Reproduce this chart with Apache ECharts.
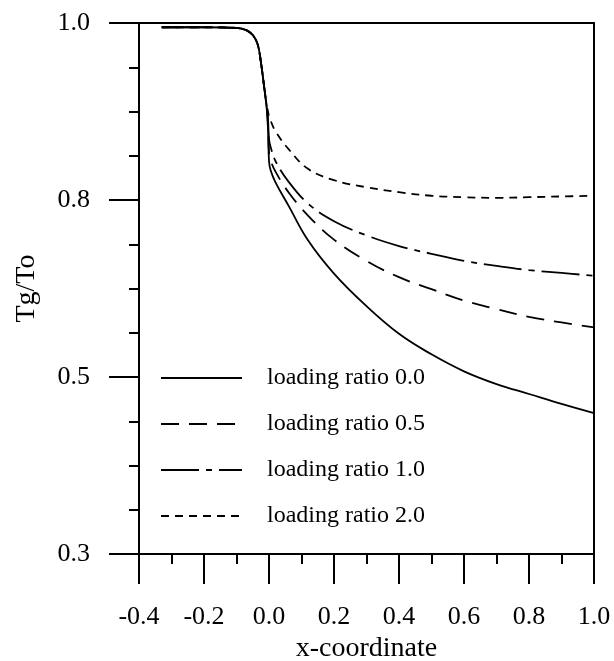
<!DOCTYPE html>
<html>
<head>
<meta charset="utf-8">
<script src="https://cdn.jsdelivr.net/npm/echarts@6/dist/echarts.min.js"></script>
<style>
  html, body { margin: 0; padding: 0; background: #fff; }
  #chart { width: 614px; height: 661px; }
</style>
</head>
<body>
<div id="chart"></div>
<script>
// x positions shared by all curves
var xs = [-0.33, -0.2, -0.1, -0.07, -0.05, -0.035, -0.025, -0.015, -0.008, -0.003, 0.0, 0.005, 0.02, 0.06, 0.12, 0.2, 0.3, 0.4, 0.5, 0.6, 0.7, 0.8, 0.9, 1.0];

// Tg/To for each loading ratio
var ratio00 = [0.994, 0.994, 0.993, 0.990, 0.983, 0.970, 0.945, 0.910, 0.885, 0.850, 0.805, 0.792, 0.775, 0.742, 0.693, 0.646, 0.600, 0.561, 0.532, 0.508, 0.490, 0.476, 0.462, 0.449];
var ratio05 = [0.994, 0.994, 0.993, 0.990, 0.983, 0.970, 0.945, 0.910, 0.885, 0.858, 0.818, 0.806, 0.790, 0.761, 0.728, 0.694, 0.664, 0.641, 0.624, 0.608, 0.596, 0.585, 0.577, 0.570];
var ratio10 = [0.994, 0.994, 0.993, 0.990, 0.983, 0.970, 0.945, 0.910, 0.885, 0.863, 0.836, 0.825, 0.805, 0.776, 0.745, 0.720, 0.700, 0.685, 0.674, 0.664, 0.657, 0.651, 0.647, 0.643];
var ratio20 = [0.994, 0.994, 0.993, 0.990, 0.983, 0.970, 0.945, 0.910, 0.885, 0.875, 0.868, 0.862, 0.847, 0.822, 0.794, 0.778, 0.768, 0.761, 0.756, 0.754, 0.753, 0.754, 0.755, 0.756];

var names = ['loading ratio 0.0', 'loading ratio 0.5', 'loading ratio 1.0', 'loading ratio 2.0'];

var font = 'Liberation Serif';

function pts(ys) {
  return xs.map(function (x, i) { return [x, ys[i]]; });
}

function line(name, ys, dash) {
  return {
    name: name,
    type: 'line',
    data: pts(ys),
    symbol: 'none',
    smooth: 0.4,
    lineStyle: { color: '#000', width: 1.8, type: dash },
    // no markers; keeps the legend's marker invisible too
    itemStyle: { color: 'rgba(0,0,0,0)', borderWidth: 0 }
  };
}

var chart = echarts.init(document.getElementById('chart'));
var option = {
  animation: false,
  backgroundColor: '#fff',
  grid: {
    left: 139, right: 20, top: 23, bottom: 107,
    outerBoundsMode: 'none',
    show: true, borderColor: '#000', borderWidth: 2
  },
  legend: {
    orient: 'vertical',
    left: 160, top: 366,
    padding: 0,
    itemWidth: 81, itemHeight: 24, itemGap: 22,
    data: names,
    itemStyle: { color: 'rgba(0,0,0,0)', borderWidth: 0 },
    textStyle: { fontFamily: font, fontSize: 24, color: '#000', padding: [0, 0, 0, 20] }
  },
  xAxis: {
    type: 'value',
    min: -0.4, max: 1.0, interval: 0.2,
    name: 'x-coordinate',
    nameLocation: 'middle',
    nameGap: 79,
    nameTextStyle: { fontFamily: font, fontSize: 28, color: '#000' },
    axisLine: { onZero: false, lineStyle: { color: '#000', width: 2 } },
    axisTick: { inside: false, length: 30, lineStyle: { color: '#000', width: 2 } },
    minorTick: { show: true, splitNumber: 2, length: 10, lineStyle: { color: '#000', width: 2 } },
    splitLine: { show: false },
    axisLabel: {
      margin: 50, fontFamily: font, fontSize: 26, color: '#000',
      formatter: function (v) { return v.toFixed(1); }
    }
  },
  yAxis: {
    type: 'value',
    min: 0.25, max: 1.0, interval: 0.25,
    name: 'Tg/To',
    nameLocation: 'middle',
    nameGap: 98,
    nameTextStyle: { fontFamily: font, fontSize: 28, color: '#000' },
    axisLine: { show: true, onZero: false, lineStyle: { color: '#000', width: 2 } },
    axisTick: { show: true, inside: false, length: 30, lineStyle: { color: '#000', width: 2 } },
    minorTick: { show: true, splitNumber: 4, length: 10, lineStyle: { color: '#000', width: 2 } },
    splitLine: { show: false },
    axisLabel: {
      margin: 49, fontFamily: font, fontSize: 26, color: '#000',
      formatter: function (v) { return v.toFixed(1); }
    }
  },
  series: [
    line(names[0], ratio00, 'solid'),
    line(names[1], ratio05, [18, 10]),
    line(names[2], ratio10, [38, 7, 6, 7]),
    line(names[3], ratio20, [8, 6])
  ]
};
chart.setOption(option);
</script>
</body>
</html>
